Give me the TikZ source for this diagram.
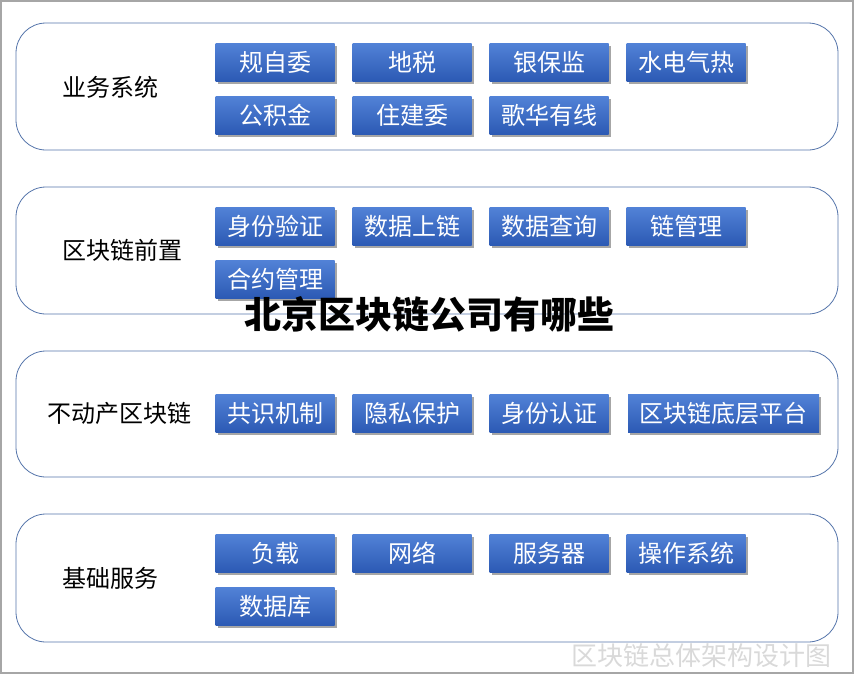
\documentclass[tikz,border=0pt]{standalone}
\usepackage{fontspec}
\setmainfont{Noto Sans CJK SC}[BoldFont={Noto Sans CJK SC Black}]
\usetikzlibrary{shadows}
\definecolor{panelline}{RGB}{84,116,170}

\begin{document}
\begin{tikzpicture}
[x=1pt,y=-1pt,
panel/.style={draw=panelline,line width=.8pt,rounded corners=30pt},
cell/.style={rectangle,inner sep=0pt,minimum width=119pt,minimum height=38pt,
  top color={rgb,255:red,82;green,130;blue,215},bottom color={rgb,255:red,44;green,90;blue,180},
  text=white,font=\fontsize{24}{27}\selectfont,
  drop shadow={shadow xshift=2pt,shadow yshift=-2.5pt,fill=black,opacity=.35}},
label/.style={anchor=west,inner sep=0pt,font=\fontsize{24}{27}\selectfont}]
\useasboundingbox (0,0) rectangle (856,688);
\draw[gray!70,line width=1.4pt] (1,1) rectangle (853,673);
% four panels
\draw[panel] (16,23) rectangle (838,150);
\draw[panel] (16,187) rectangle (838,314);
\draw[panel] (16,351) rectangle (838,477);
\draw[panel] (16,514) rectangle (838,642);
\node[label] (l1) at (62,87) {业务系统};
\node[label] (l2) at (62,250) {区块链前置};
\node[label] (l3) at (47,413) {不动产区块链};
\node[label] (l4) at (62,578) {基础服务};
% boxes
\foreach \t [count=\i] in {规自委,地税,银保监,水电气热}
\node[cell] (a\i) at (138+137*\i,62) {\t};
\foreach \t [count=\i] in {公积金,住建委,歌华有线}
\node[cell] (b\i) at (138+137*\i,115) {\t};
\foreach \t [count=\i] in {身份验证,数据上链,数据查询,链管理}
\node[cell] (c\i) at (138+137*\i,226) {\t};
\node[cell] (d1) at (275,279) {合约管理};
\foreach \t [count=\i] in {共识机制,隐私保护,身份认证}
\node[cell] (e\i) at (138+137*\i,413) {\t};
\node[cell,minimum width=191pt] (e4) at (723.5,413) {区块链底层平台};
\foreach \t [count=\i] in {负载,网络,服务器,操作系统}
\node[cell] (f\i) at (138+137*\i,553) {\t};
\node[cell] (g1) at (275,606) {数据库};
\node[font=\fontsize{37}{40}\selectfont\bfseries] (title) at (429,314) {北京区块链公司有哪些};
\node[text=gray!30,font=\fontsize{26}{30}\selectfont] (mark) at (701,656) {区块链总体架构设计图};
\end{tikzpicture}
\end{document}
